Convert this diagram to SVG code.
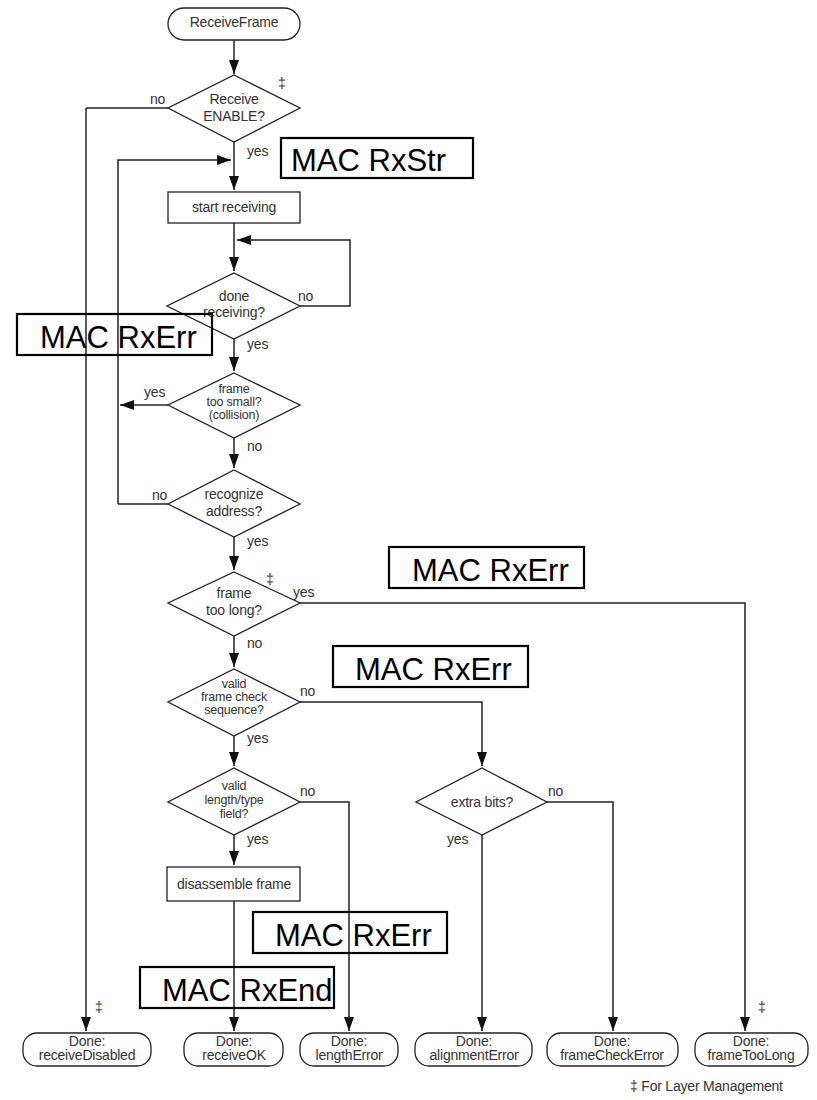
<svg xmlns="http://www.w3.org/2000/svg" width="817" height="1100" viewBox="0 0 817 1100">
<style>
.n{fill:#fff;stroke:#222;stroke-width:1.3}
.t{font-family:"Liberation Sans",Arial,sans-serif;font-size:14px;fill:#333;text-anchor:middle;letter-spacing:-0.2px}
.s{font-size:12.5px}
.l{font-family:"Liberation Sans",Arial,sans-serif;font-size:14px;fill:#333;letter-spacing:-0.2px}
.c{fill:none;stroke:#222;stroke-width:1.5}
.a{marker-end:url(#ah)}
.m{fill:none;stroke:#000;stroke-width:2.2}
.mt{font-family:"Liberation Sans",Arial,sans-serif;font-size:31px;fill:#000}
</style>
<defs>
<marker id="ah" viewBox="0 0 14 10" refX="14" refY="5" markerWidth="14" markerHeight="10" markerUnits="userSpaceOnUse" orient="auto">
<path d="M0,0 L14,5 L0,10 z" fill="#111"/>
</marker>
</defs>
<rect width="817" height="1100" fill="#fff"/>
<g id="connectors">
<path class="c a" d="M234,40 V74"/>
<path class="c" d="M168,108 H86"/>
<path class="c a" d="M86,108 V1031"/>
<path class="c a" d="M234,142 V190"/>
<path class="c a" d="M118,504 V160 H231"/>
<path class="c a" d="M234,223 V271"/>
<path class="c a" d="M300,306 H350 V240 H237"/>
<path class="c a" d="M234,338 V371"/>
<path class="c a" d="M168,405 H120"/>
<path class="c a" d="M234,438 V468"/>
<path class="c" d="M168,504 H118"/>
<path class="c a" d="M234,537 V570"/>
<path class="c a" d="M300,603 H745 V1031"/>
<path class="c a" d="M234,636 V667"/>
<path class="c a" d="M300,702 H482 V766"/>
<path class="c a" d="M234,736 V766"/>
<path class="c a" d="M300,802 H349 V1031"/>
<path class="c a" d="M547,802 H613 V1031"/>
<path class="c a" d="M482,835 V1031"/>
<path class="c a" d="M234,835 V865"/>
<path class="c a" d="M234,901 V1031"/>
<text class="l" x="150" y="104">no</text>
<text class="l" x="247" y="156">yes</text>
<text class="l" x="298" y="301">no</text>
<text class="l" x="247" y="349">yes</text>
<text class="l" x="144" y="397">yes</text>
<text class="l" x="247" y="451">no</text>
<text class="l" x="152" y="500">no</text>
<text class="l" x="247" y="546">yes</text>
<text class="l" x="293" y="597">yes</text>
<text class="l" x="247" y="648">no</text>
<text class="l" x="300" y="696">no</text>
<text class="l" x="247" y="743">yes</text>
<text class="l" x="300" y="796">no</text>
<text class="l" x="548" y="796">no</text>
<text class="l" x="247" y="844">yes</text>
<text class="l" x="447" y="844">yes</text>
</g>
<g id="n-receiveframe">
<rect class="n" x="168" y="8" width="132" height="32" rx="16"/>
<text class="t" x="234" y="27">ReceiveFrame</text>
</g>
<g id="n-receive-enable">
<polygon class="n" points="234,75 300,108 234,142 168,108"/>
<text class="t" x="234" y="104">Receive</text>
<text class="t" x="234" y="121">ENABLE?</text>
<text class="l" x="278" y="88">‡</text>
</g>
<g id="n-start-receiving">
<rect class="n" x="168" y="192" width="132" height="31"/>
<text class="t" x="234" y="212">start receiving</text>
</g>
<g id="n-done-receiving">
<polygon class="n" points="234,273 300,306 234,339 167,306"/>
<text class="t" x="234" y="301">done</text>
<text class="t" x="234" y="317">receiving?</text>
</g>
<g id="n-too-small">
<polygon class="n" points="234,373 300,405 234,438 168,405"/>
<text class="t s" x="234" y="393">frame</text>
<text class="t s" x="234" y="406">too small?</text>
<text class="t s" x="234" y="419">(collision)</text>
</g>
<g id="n-recognize">
<polygon class="n" points="234,470 300,504 234,537 168,504"/>
<text class="t" x="234" y="499">recognize</text>
<text class="t" x="234" y="516">address?</text>
</g>
<g id="n-too-long">
<polygon class="n" points="234,572 300,603 234,636 168,603"/>
<text class="t" x="234" y="598">frame</text>
<text class="t" x="234" y="615">too long?</text>
<text class="l" x="266" y="584">‡</text>
</g>
<g id="n-fcs">
<polygon class="n" points="234,669 300,702 234,736 168,702"/>
<text class="t s" x="234" y="688">valid</text>
<text class="t s" x="234" y="701">frame check</text>
<text class="t s" x="234" y="714">sequence?</text>
</g>
<g id="n-length">
<polygon class="n" points="234,768 300,802 234,835 168,802"/>
<text class="t s" x="234" y="790">valid</text>
<text class="t s" x="234" y="804">length/type</text>
<text class="t s" x="234" y="818">field?</text>
</g>
<g id="n-extra-bits">
<polygon class="n" points="482,768 547,802 482,835 416,802"/>
<text class="t" x="482" y="807">extra bits?</text>
</g>
<g id="n-disassemble">
<rect class="n" x="167" y="867" width="133" height="34"/>
<text class="t" x="234" y="889">disassemble frame</text>
</g>
<g id="n-done-disabled">
<rect class="n" x="23" y="1033" width="128" height="33" rx="14"/>
<text class="t" x="87" y="1046">Done:</text>
<text class="t" x="87" y="1060">receiveDisabled</text>
<text class="l" x="95" y="1012">‡</text>
</g>
<g id="n-done-ok">
<rect class="n" x="184" y="1033" width="99" height="33" rx="14"/>
<text class="t" x="234" y="1046">Done:</text>
<text class="t" x="234" y="1060">receiveOK</text>
</g>
<g id="n-done-length">
<rect class="n" x="300" y="1033" width="98" height="33" rx="14"/>
<text class="t" x="349" y="1046">Done:</text>
<text class="t" x="349" y="1060">lengthError</text>
</g>
<g id="n-done-alignment">
<rect class="n" x="415" y="1033" width="117" height="33" rx="14"/>
<text class="t" x="474" y="1046">Done:</text>
<text class="t" x="474" y="1060">alignmentError</text>
</g>
<g id="n-done-fcs">
<rect class="n" x="547" y="1033" width="131" height="33" rx="14"/>
<text class="t" x="612" y="1046">Done:</text>
<text class="t" x="612" y="1060">frameCheckError</text>
</g>
<g id="n-done-toolong">
<rect class="n" x="695" y="1033" width="113" height="33" rx="14"/>
<text class="t" x="751" y="1046">Done:</text>
<text class="t" x="751" y="1060">frameTooLong</text>
<text class="l" x="758" y="1012">‡</text>
</g>
<g id="mac-labels">
<rect class="m" x="281" y="138" width="192" height="40"/>
<text class="mt" x="291" y="171">MAC RxStr</text>
<rect class="m" x="17" y="314" width="195" height="41"/>
<text class="mt" x="40" y="348">MAC RxErr</text>
<rect class="m" x="389" y="547" width="195" height="41"/>
<text class="mt" x="412" y="581">MAC RxErr</text>
<rect class="m" x="333" y="646" width="195" height="41"/>
<text class="mt" x="355" y="680">MAC RxErr</text>
<rect class="m" x="253" y="912" width="194" height="41"/>
<text class="mt" x="275" y="946">MAC RxErr</text>
<rect class="m" x="140" y="967" width="194" height="41"/>
<text class="mt" x="162" y="1001">MAC RxEnd</text>
</g>
<g id="footnote">
<text class="l" x="630" y="1091">‡ For Layer Management</text>
</g>
</svg>
